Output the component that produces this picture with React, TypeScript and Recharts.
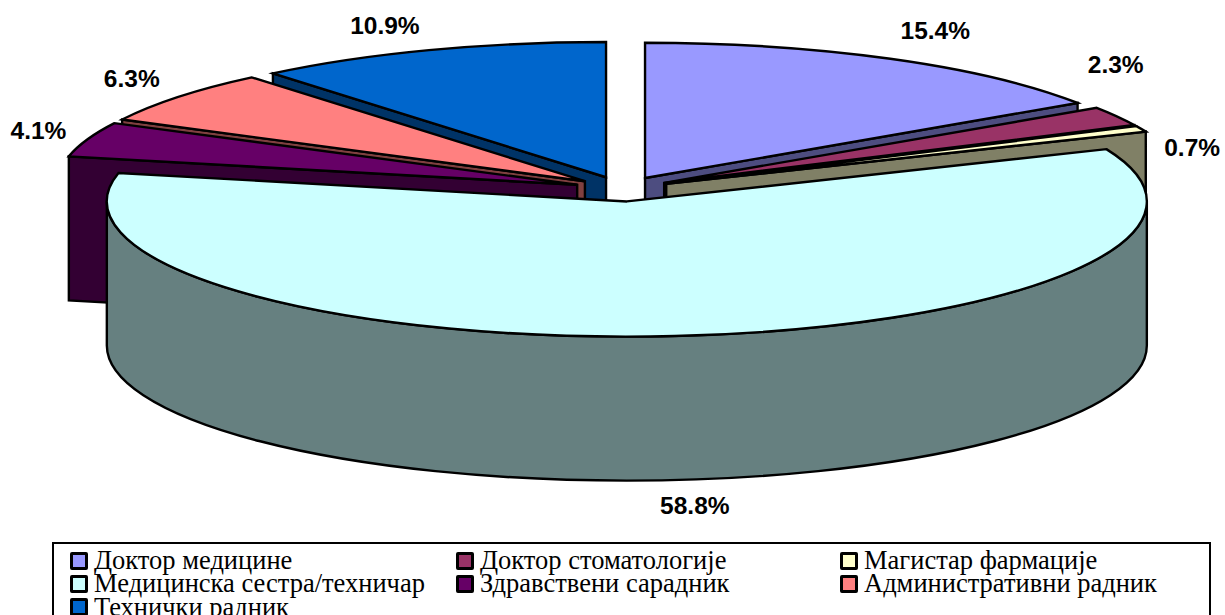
import React from 'react'
import { PieChart, Pie, Legend } from 'recharts'

const categories = [
  'Доктор медицине',
  'Доктор стоматологије',
  'Магистар фармације',
  'Медицинска сестра/техничар',
  'Здравствени сарадник',
  'Административни радник',
  'Технички радник',
]
const shares = [15.4, 2.3, 0.7, 58.8, 4.1, 6.3, 10.9]
const topColors = ['#9999FF', '#993366', '#FFFFCC', '#CCFFFF', '#660066', '#FF8080', '#0066CC']
const sideColors = ['#4D4D80', '#4D1A33', '#808066', '#668080', '#330033', '#804040', '#003366']

// label offset from the outer rim of each slice
const labelNudge = [
  [45, -28],
  [-1, -52],
  [51, 19],
  [20, 169],
  [-49, -9],
  [-47, -18],
  [-44, -25],
]

const rows = categories.map((name, i) => ({
  name,
  value: shares[i],
  fill: topColors[i],
  side: sideColors[i],
  index: i,
}))

// the pie is painted back to front: right hand slices clockwise, then left hand
// slices anticlockwise, so the big front slice comes last
const rightSlices = [0, 1, 2]
const leftSlices = [6, 5, 4, 3]

const CX = 622.4
const CY = 189
const RADIUS = 520
const SQUASH = 0.26
const DEPTH = 144
const EXPLODE = 48

const rad = (d: number) => (d * Math.PI) / 180

// clock angle (0 = top, clockwise) to a point on the tilted plane
const onPlane = (ox: number, oy: number, clock: number, r: number) => ({
  x: ox + Math.sin(rad(clock)) * r,
  y: oy - Math.cos(rad(clock)) * r * SQUASH,
})

const clockRange = (startAngle: number, endAngle: number) => {
  let lo = Math.min(90 - startAngle, 90 - endAngle)
  let hi = Math.max(90 - startAngle, 90 - endAngle)
  if (lo < 0) {
    lo += 360
    hi += 360
  }
  return [lo, hi]
}

const poly = (pts: { x: number; y: number }[]) => pts.map((p) => `${p.x},${p.y}`).join(' ')

function Slice3D(props: any, show: number[]) {
  const { cx, cy, outerRadius, startAngle, endAngle, payload } = props
  if (!show.includes(payload.index)) return <g />
  const [lo, hi] = clockRange(startAngle, endAngle)
  const apex = onPlane(cx, cy, (lo + hi) / 2, EXPLODE)
  const a = onPlane(apex.x, apex.y, lo, outerRadius)
  const b = onPlane(apex.x, apex.y, hi, outerRadius)
  const down = (p: { x: number; y: number }) => ({ x: p.x, y: p.y + DEPTH })
  const line = { stroke: '#000', strokeWidth: 2.4, strokeLinejoin: 'miter' as const }
  const large = hi - lo > 180 ? 1 : 0
  const rimLo = Math.max(lo, 90)
  const rimHi = Math.min(hi, 270)
  const rimA = onPlane(apex.x, apex.y, rimLo, outerRadius)
  const rimB = onPlane(apex.x, apex.y, rimHi, outerRadius)
  const rx = outerRadius
  const ry = outerRadius * SQUASH
  return (
    <g>
      {Math.sin(rad(lo)) < 0 && (
        <polygon points={poly([apex, a, down(a), down(apex)])} fill={payload.side} {...line} />
      )}
      {Math.sin(rad(hi)) > 0 && (
        <polygon points={poly([apex, b, down(b), down(apex)])} fill={payload.side} {...line} />
      )}
      {rimLo < rimHi && (
        <path
          d={`M${rimA.x},${rimA.y} A${rx},${ry} 0 0 1 ${rimB.x},${rimB.y} L${rimB.x},${rimB.y + DEPTH} A${rx},${ry} 0 0 0 ${rimA.x},${rimA.y + DEPTH} Z`}
          fill={payload.side}
          {...line}
        />
      )}
      <path
        d={`M${apex.x},${apex.y} L${a.x},${a.y} A${rx},${ry} 0 ${large} 1 ${b.x},${b.y} Z`}
        fill={payload.fill}
        {...line}
      />
    </g>
  )
}

function SliceLabel(props: any) {
  const { cx, cy, outerRadius, midAngle, payload } = props
  const clock = 90 - midAngle
  const apex = onPlane(cx, cy, clock, EXPLODE)
  const rim = onPlane(apex.x, apex.y, clock, outerRadius)
  const [dx, dy] = labelNudge[payload.index]
  return (
    <text
      x={rim.x + dx}
      y={rim.y + dy}
      textAnchor="middle"
      dominantBaseline="central"
      fontFamily="'Liberation Sans', Arial, sans-serif"
      fontWeight="bold"
      fontSize={24.5}
      fill="#000"
    >
      {payload.value.toFixed(1)}%
    </text>
  )
}

function LegendBox() {
  return (
    <div
      style={{
        boxSizing: 'border-box',
        width: 1159,
        height: 90,
        border: '2.5px solid #000',
        background: '#fff',
        padding: '5px 0 0 16px',
        display: 'grid',
        gridTemplateColumns: '386px 384px 1fr',
        gridAutoRows: '23.3px',
        fontFamily: "'Liberation Serif', 'Times New Roman', serif",
        fontSize: 26.5,
        lineHeight: '23.3px',
        color: '#000',
      }}
    >
      {rows.map((r) => (
        <div key={r.name} style={{ display: 'flex', alignItems: 'center', whiteSpace: 'nowrap' }}>
          <span
            style={{
              boxSizing: 'border-box',
              width: 18,
              height: 18,
              border: '3px solid #000',
              borderRadius: 2,
              background: r.fill,
              marginRight: 6,
              flex: 'none',
            }}
          />
          {r.name}
        </div>
      ))}
    </div>
  )
}

export default function App(): React.JSX.Element {
  return (
    <div style={{ position: 'absolute', left: 0, top: 0, width: 1225, height: 615, overflow: 'hidden', background: '#fff' }}>
      <PieChart width={1225} height={615} margin={{ top: 0, right: 0, bottom: 0, left: 0 }}>
        <Pie
          data={rows}
          dataKey="value"
          cx={CX}
          cy={CY}
          outerRadius={RADIUS}
          startAngle={90}
          endAngle={-270}
          stroke="none"
          labelLine={false}
          isAnimationActive={false}
          shape={(p: any) => Slice3D(p, rightSlices)}
        />
        <Pie
          data={[...rows].reverse()}
          dataKey="value"
          cx={CX}
          cy={CY}
          outerRadius={RADIUS}
          startAngle={90}
          endAngle={450}
          stroke="none"
          labelLine={false}
          label={SliceLabel}
          isAnimationActive={false}
          shape={(p: any) => Slice3D(p, leftSlices)}
        />
        <Legend
          verticalAlign="bottom"
          content={() => <LegendBox />}
          wrapperStyle={{ position: 'absolute', left: 52, top: 542, width: 1159, height: 73, bottom: 'auto', overflow: 'hidden' }}
        />
      </PieChart>
    </div>
  )
}
